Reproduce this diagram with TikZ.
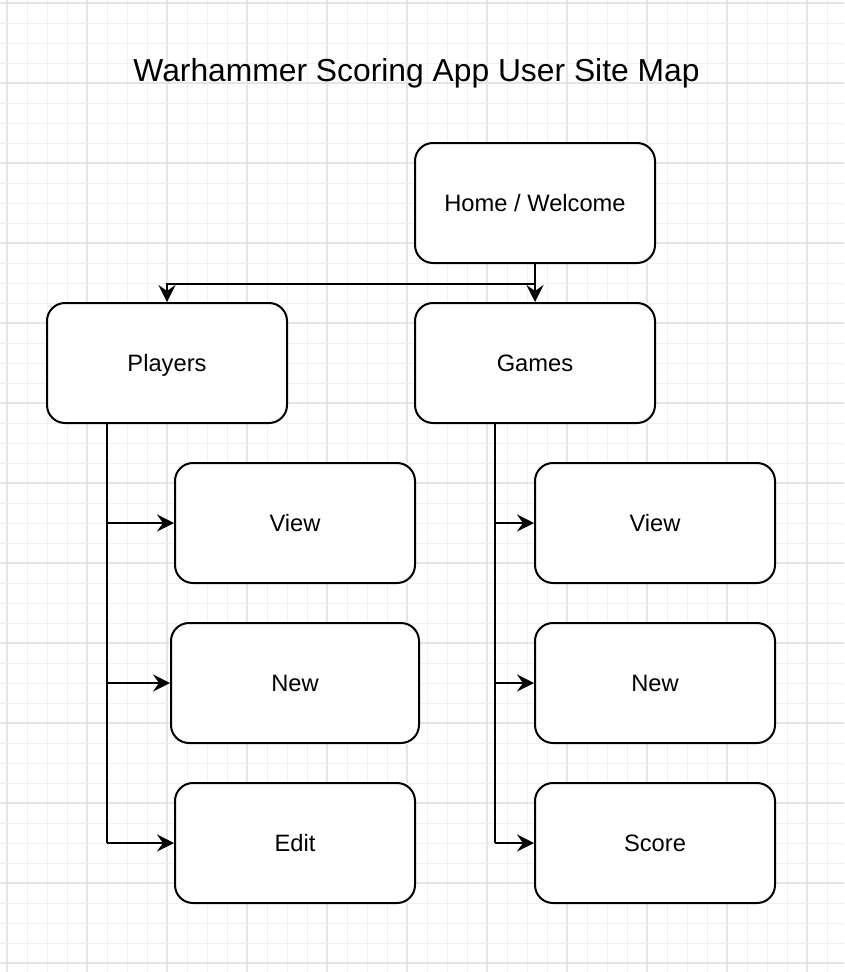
\documentclass[tikz,border=0pt]{standalone}
\usepackage{fontspec}
\setmainfont{Liberation Sans}
\usetikzlibrary{positioning}
\usetikzlibrary{arrows.meta}

\tikzset{
	page/.style={draw, line width=2pt, rounded corners=18pt, fill=white,
		minimum width=240pt, minimum height=120pt, inner sep=0pt,
		font=\fontsize{23.7}{28}\selectfont, text height=16pt, text depth=0pt},
	link/.style={line width=2pt, -{Stealth[length=17pt, width=17pt, inset=6pt]}},
	trunk/.style={line width=2pt},
	minorgrid/.style={line width=1pt, draw=black!6},
	majorgrid/.style={line width=1.3pt, draw=black!10},
}

\begin{document}
\begin{tikzpicture}[x=1pt, y=-1pt]
	
	% ---------------------
	% Proper size --- Bounding box
	\useasboundingbox (0,0) rectangle (844,972);
	\fill[white] (0,0) rectangle (844,972);
	
	% ---------------------
	% Background grid
	\foreach \k in {0,...,41}{
		\pgfmathtruncatemacro{\isMajor}{mod(\k,4)==0}
		\ifnum\isMajor=1
			\draw[majorgrid] (7+20*\k,0) -- (7+20*\k,972);
		\else
			\draw[minorgrid] (7+20*\k,0) -- (7+20*\k,972);
		\fi
	}
	\foreach \k in {0,...,48}{
		\pgfmathtruncatemacro{\isMajor}{mod(\k,4)==0}
		\ifnum\isMajor=1
			\draw[majorgrid] (0,3+20*\k) -- (844,3+20*\k);
		\else
			\draw[minorgrid] (0,3+20*\k) -- (844,3+20*\k);
		\fi
	}
	
	% ---------------------
	% Title
	\node[anchor=base, font=\fontsize{31.8}{38}\selectfont] (Title) at (416.5,81) {Warhammer Scoring App User Site Map};
	
	% ---------------------
	% Top level pages
	\node[page] (Home) at (535,203) {Home / Welcome};
	\node[page] (Games) at (535,363) {Games};
	\node[page] (Players) at (167,363) {Players};
	
	% ---------------------
	% Players sub pages
	\node[page] (PlayerView) at (295,523) {View};
	\node[page, minimum width=248pt] (PlayerNew) at (295,683) {New};
	\node[page] (PlayerEdit) at (295,843) {Edit};
	
	% ---------------------
	% Games sub pages
	\node[page] (GameView) at (655,523) {View};
	\node[page] (GameNew) at (655,683) {New};
	\node[page] (GameScore) at (655,843) {Score};
	
	% ---------------------
	% Trunk points
	\path (Home.south) +(0,20) coordinate (HomeSplit);
	\path (Players.south) +(-60,0) coordinate (PlayersTrunk);
	\path (Games.south) +(-40,0) coordinate (GamesTrunk);
	\path (PlayersTrunk |- PlayerEdit.west) coordinate (PlayersEnd);
	\path (GamesTrunk |- GameScore.west) coordinate (GamesEnd);
	
	% ---------------------
	% Connectors
	\draw[link] (Home.south) -- (Games.north);
	\draw[link] (HomeSplit) -| (Players.north);
	
	\draw[trunk] (PlayersTrunk) -- (PlayersEnd);
	\draw[link] (PlayersTrunk |- PlayerView.west) -- (PlayerView.west);
	\draw[link] (PlayersTrunk |- PlayerNew.west) -- (PlayerNew.west);
	\draw[link] (PlayersEnd) -- (PlayerEdit.west);
	
	\draw[trunk] (GamesTrunk) -- (GamesEnd);
	\draw[link] (GamesTrunk |- GameView.west) -- (GameView.west);
	\draw[link] (GamesTrunk |- GameNew.west) -- (GameNew.west);
	\draw[link] (GamesEnd) -- (GameScore.west);
	
\end{tikzpicture}
\end{document}
